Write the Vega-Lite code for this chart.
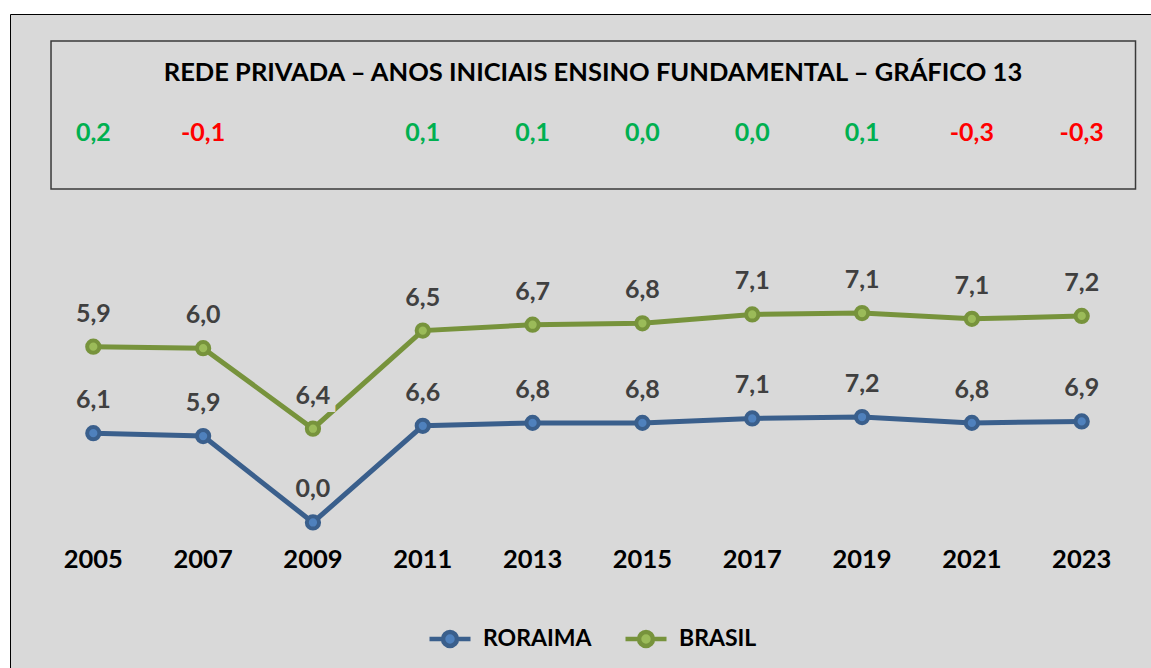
{
  "$schema": "https://vega.github.io/schema/vega-lite/v6.json",
  "width": 1141,
  "height": 654,
  "padding": {"left": 10, "top": 14, "right": 0, "bottom": 0},
  "autosize": {"type": "none"},
  "background": "white",
  "config": {
    "view": {"fill": "#d9d9d9", "stroke": "#000000", "strokeWidth": 1},
    "font": "Lato"
  },
  "datasets": {
    "main": [
      {"year": 2005, "series": "RORAIMA", "value": 6.1, "label": "6,1"},
      {"year": 2007, "series": "RORAIMA", "value": 5.9, "label": "5,9"},
      {"year": 2009, "series": "RORAIMA", "value": 0.0, "label": "0,0"},
      {"year": 2011, "series": "RORAIMA", "value": 6.6, "label": "6,6"},
      {"year": 2013, "series": "RORAIMA", "value": 6.8, "label": "6,8"},
      {"year": 2015, "series": "RORAIMA", "value": 6.8, "label": "6,8"},
      {"year": 2017, "series": "RORAIMA", "value": 7.1, "label": "7,1"},
      {"year": 2019, "series": "RORAIMA", "value": 7.2, "label": "7,2"},
      {"year": 2021, "series": "RORAIMA", "value": 6.8, "label": "6,8"},
      {"year": 2023, "series": "RORAIMA", "value": 6.9, "label": "6,9"},
      {"year": 2005, "series": "BRASIL", "value": 5.9, "label": "5,9"},
      {"year": 2007, "series": "BRASIL", "value": 6.0, "label": "6,0"},
      {"year": 2009, "series": "BRASIL", "value": 6.4, "label": "6,4"},
      {"year": 2011, "series": "BRASIL", "value": 6.5, "label": "6,5"},
      {"year": 2013, "series": "BRASIL", "value": 6.7, "label": "6,7"},
      {"year": 2015, "series": "BRASIL", "value": 6.8, "label": "6,8"},
      {"year": 2017, "series": "BRASIL", "value": 7.1, "label": "7,1"},
      {"year": 2019, "series": "BRASIL", "value": 7.1, "label": "7,1"},
      {"year": 2021, "series": "BRASIL", "value": 7.1, "label": "7,1"},
      {"year": 2023, "series": "BRASIL", "value": 7.2, "label": "7,2"}
    ],
    "diffs": [
      {"year": 2005, "diff": 0.2, "dtext": "0,2"},
      {"year": 2007, "diff": -0.1, "dtext": "-0,1"},
      {"year": 2011, "diff": 0.1, "dtext": "0,1"},
      {"year": 2013, "diff": 0.1, "dtext": "0,1"},
      {"year": 2015, "diff": 0.0, "dtext": "0,0"},
      {"year": 2017, "diff": 0.0, "dtext": "0,0"},
      {"year": 2019, "diff": 0.1, "dtext": "0,1"},
      {"year": 2021, "diff": -0.3, "dtext": "-0,3"},
      {"year": 2023, "diff": -0.3, "dtext": "-0,3"}
    ],
    "titleData": [
      {"title": "REDE PRIVADA – ANOS INICIAIS ENSINO FUNDAMENTAL – GRÁFICO 13"}
    ]
  },
  "layer": [
    {
      "data": {"name": "titleData"},
      "mark": {"type": "rect", "fillOpacity": 0, "stroke": "#3a3a3a", "strokeWidth": 1.5},
      "encoding": {
        "x": {"datum": 2004.23, "type": "quantitative", "scale": {"domain": [2003.483, 2024.262], "nice": false, "zero": false}, "axis": null},
        "x2": {"datum": 2023.98},
        "y": {"datum": 32.867, "type": "quantitative", "scale": {"domain": [-9.932, 34.71], "nice": false, "zero": false}, "axis": null},
        "y2": {"datum": 22.765}
      }
    },
    {
      "data": {"name": "titleData"},
      "mark": {"type": "text", "fontSize": 25.5, "fontWeight": "bold", "color": "#000000", "align": "center", "baseline": "middle"},
      "encoding": {
        "x": {"datum": 2014.1, "type": "quantitative"},
        "y": {"datum": 30.683, "type": "quantitative"},
        "text": {"field": "title"}
      }
    },
    {
      "data": {"name": "diffs"},
      "mark": {"type": "text", "fontSize": 25, "fontWeight": "bold", "align": "center", "baseline": "middle"},
      "encoding": {
        "x": {"field": "year", "type": "quantitative"},
        "y": {"datum": 26.587, "type": "quantitative"},
        "text": {"field": "dtext"},
        "color": {"condition": {"test": "datum.diff < 0", "value": "#ff0000"}, "value": "#00b050"}
      }
    },
    {
      "data": {"name": "main"},
      "transform": [
        {"stack": "value", "groupby": ["year"], "sort": [{"field": "series", "order": "descending"}], "as": ["v0", "v1"]}
      ],
      "layer": [
        {
          "mark": {"type": "line", "strokeWidth": 5},
          "encoding": {
            "x": {"field": "year", "type": "quantitative"},
            "y": {"field": "v1", "type": "quantitative"},
            "stroke": {
              "field": "series",
              "type": "nominal",
              "scale": {"domain": ["RORAIMA", "BRASIL"], "range": ["#3a5f8c", "#77933c"]},
              "legend": {
                "orient": "none",
                "legendX": 417,
                "legendY": 602,
                "direction": "horizontal",
                "title": null,
                "symbolType": "M-1,0L-0.34,0M0.34,0L1,0M-0.34,0A0.34,0.34,0,1,1,0.34,0A0.34,0.34,0,1,1,-0.34,0Z",
                "symbolSize": 1681,
                "symbolStrokeWidth": 4.5,
                "labelFontSize": 23,
                "labelFontWeight": "bold",
                "labelColor": "#000000",
                "labelFont": "Lato",
                "labelOffset": 10,
                "columnPadding": 24,
                "encode": {
                  "symbols": {
                    "update": {
                      "fill": {"signal": "datum.value === 'RORAIMA' ? '#4f81bd' : '#9bbb59'"},
                      "fillOpacity": {"value": 1},
                      "opacity": {"value": 1}
                    }
                  }
                }
              }
            }
          }
        },
        {
          "mark": {"type": "point", "shape": "circle", "filled": true, "size": 150, "strokeWidth": 4, "opacity": 1},
          "encoding": {
            "x": {"field": "year", "type": "quantitative"},
            "y": {"field": "v1", "type": "quantitative"},
            "fill": {"field": "series", "type": "nominal", "scale": {"domain": ["RORAIMA", "BRASIL"], "range": ["#4f81bd", "#9bbb59"]}, "legend": null},
            "stroke": {"field": "series", "type": "nominal"}
          }
        },
        {
          "mark": {"type": "text", "fontSize": 25, "fontWeight": "bold", "dy": -33, "align": "center", "baseline": "middle", "fill": "#d9d9d9", "stroke": "#d9d9d9", "strokeWidth": 16, "strokeJoin": "miter"},
          "encoding": {
            "x": {"field": "year", "type": "quantitative"},
            "y": {"field": "v1", "type": "quantitative"},
            "text": {"field": "label"}
          }
        },
        {
          "mark": {"type": "text", "fontSize": 25, "fontWeight": "bold", "dy": -33, "align": "center", "baseline": "middle", "color": "#404040"},
          "encoding": {
            "x": {"field": "year", "type": "quantitative"},
            "y": {"field": "v1", "type": "quantitative"},
            "text": {"field": "label"}
          }
        },
        {
          "transform": [{"filter": "datum.series === 'RORAIMA'"}],
          "mark": {"type": "text", "fontSize": 25.5, "fontWeight": "bold", "align": "center", "baseline": "middle", "color": "#000000"},
          "encoding": {
            "x": {"field": "year", "type": "quantitative"},
            "y": {"datum": -2.56, "type": "quantitative"},
            "text": {"field": "year", "type": "nominal"}
          }
        }
      ]
    }
  ]
}
